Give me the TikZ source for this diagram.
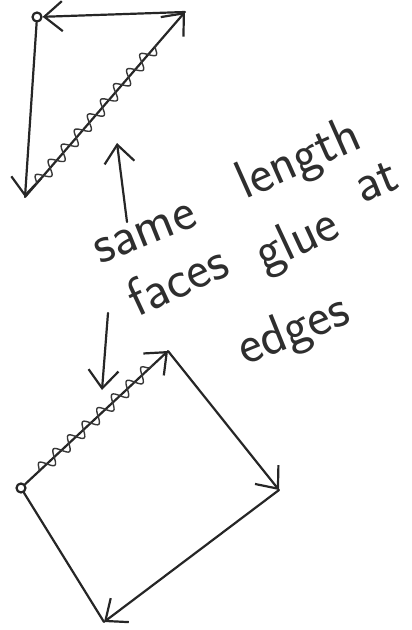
\documentclass[tikz,border=0pt]{standalone}
\usetikzlibrary{arrows.meta,decorations.pathmorphing,calc}
\begin{document}
\begin{tikzpicture}[x=1pt,y=-1pt,
  ink/.style={draw=black!85,line width=2.2pt,line cap=round,line join=round},
  tip/.style={-{Straight Barb[length=18pt,width=30pt,line width=2.2pt]}},
  vtx/.style={circle,draw=black!85,line width=2.2pt,inner sep=0pt,minimum size=9pt},
  wavy/.style={draw=black!78,line width=1.4pt,decorate,decoration={snake,amplitude=6.5pt,segment length=20pt}},
  hand/.style={font=\sffamily\fontsize{54}{60}\selectfont,text=black!82,inner sep=0pt,anchor=base west}]
\useasboundingbox (0,0) rectangle (412,630);
% triangle
\node[vtx] (A) at (37,17) {};
\coordinate (B) at (185,12);
\coordinate (C) at (25,197);
\draw[ink,tip] (B) -- (A);
\draw[ink,tip] (A) -- (C);
\draw[ink,tip] (C) -- (B);
\draw[wavy] ($(C)!0.07!(B)$) -- ($(C)!0.82!(B)$);
% square
\node[vtx] (L) at (21,488) {};
\coordinate (T) at (168,351);
\coordinate (R) at (279,490);
\coordinate (D) at (104,622);
\draw[ink,tip] (L) -- (T);
\draw[ink,tip] (T) -- (R);
\draw[ink,tip] (R) -- (D);
\draw[ink] (L) -- (D);
\draw[wavy] ($(L)!0.12!(T)$) -- ($(L)!0.9!(T)$);
% pointer arrows
\coordinate (u0) at (127,222);
\coordinate (u1) at (117,143);
\draw[ink,tip] (u0) -- (u1);
\coordinate (d0) at (108,313);
\coordinate (d1) at (102,390);
\draw[ink,tip] (d0) -- (d1);
% text
\node[hand,rotate=22] (w1) at (100,265) {same};
\node[hand,rotate=24] (w2) at (245,200) {length};
\node[hand,rotate=25] (w3) at (137,318) {faces};
\node[hand,rotate=25] (w4) at (264,272) {glue};
\node[hand,rotate=22] (w5) at (362,204) {at};
\node[hand,rotate=22] (w6) at (245,366) {edges};
\end{tikzpicture}
\end{document}
